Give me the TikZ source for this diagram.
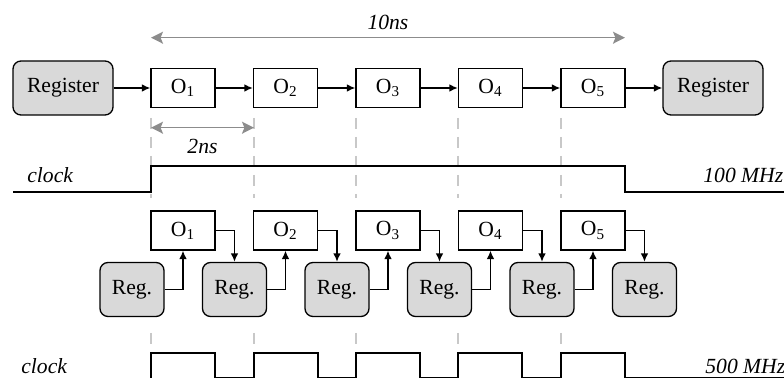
\documentclass[tikz,border=0pt]{standalone}
\usepackage{fontspec}
\setmainfont{Liberation Serif}
\usetikzlibrary{arrows.meta, positioning, calc}

\definecolor{regfill}{RGB}{217,217,217}
\definecolor{spangray}{RGB}{140,140,140}
\definecolor{guidegray}{RGB}{200,200,200}

\begin{document}
\begin{tikzpicture}[x=0.5pt,y=-0.5pt,
  every node/.style={font=\fontsize{10.8}{13}\selectfont},
  op/.style={draw,line width=0.65pt,minimum width=32pt,minimum height=19.5pt,inner sep=0pt},
  reg/.style={draw,fill=regfill,rounded corners=4pt,line width=0.65pt,minimum height=27pt,inner sep=0pt},
  lbl/.style={font=\fontsize{10.8}{13}\selectfont\itshape,inner sep=0pt},
  flow/.style={-{Latex[length=4.2pt,width=3.8pt]},line width=0.75pt},
  span/.style={{Stealth[length=6pt,width=6pt,inset=1.2pt]}-{Stealth[length=6pt,width=6pt,inset=1.2pt]},spangray,line width=0.8pt},
  guide/.style={guidegray,line width=0.7pt,dash pattern=on 5.5pt off 4pt},
  clk/.style={line width=0.85pt},
]
\useasboundingbox (0,0) rectangle (784,378);

% guides (behind everything)
\draw[guide] (151,118) -- (151,198);
\draw[guide] (254,118) -- (254,198);
\draw[guide] (356,118) -- (356,198);
\draw[guide] (458,118) -- (458,198);
\draw[guide] (561,118) -- (561,198);
\draw[guide] (151,333) -- (151,352);
\draw[guide] (254,333) -- (254,352);
\draw[guide] (356,333) -- (356,352);
\draw[guide] (458,333) -- (458,352);
\draw[guide] (561,333) -- (561,352);

% single register pipeline
\node[reg,minimum width=50pt] (nRegIn) at (63,88) {Register};
\node[op] (nO1) at (183,88) {O\textsubscript{1}};
\node[op] (nO2) at (285.5,88) {O\textsubscript{2}};
\node[op] (nO3) at (388,88) {O\textsubscript{3}};
\node[op] (nO4) at (490.5,88) {O\textsubscript{4}};
\node[op] (nO5) at (593,88) {O\textsubscript{5}};
\node[reg,minimum width=50pt] (nRegOut) at (713,88) {Register};

\draw[flow] (nRegIn) -- (nO1);
\draw[flow] (nO1) -- (nO2);
\draw[flow] (nO2) -- (nO3);
\draw[flow] (nO3) -- (nO4);
\draw[flow] (nO4) -- (nO5);
\draw[flow] (nO5) -- (nRegOut);

% time spans
\coordinate (tA) at (151,37.7);
\coordinate (tB) at (625,37.7);
\coordinate (tC) at (151,127.7);
\coordinate (tD) at (254,127.7);
\draw[span] (tA) -- (tB);
\draw[span] (tC) -- (tD);
\node[lbl] (nTen) at (388,22) {10ns};
\node[lbl] (nTwo) at (202.5,146) {2ns};

% slow clock
\node[lbl,anchor=west] (nClkA) at (27,175) {clock};
\node[lbl,anchor=west] (nFreqA) at (703,175) {100 MHz};
\draw[clk] (13,191.7) -- (151,191.7) -- (151,165.7) -- (625,165.7) -- (625,191.7) -- (790,191.7);

% pipelined version
\node[op] (nS1) at (183,230.5) {O\textsubscript{1}};
\node[op] (nS2) at (285.5,230.5) {O\textsubscript{2}};
\node[op] (nS3) at (388,230.5) {O\textsubscript{3}};
\node[op] (nS4) at (490.5,230.5) {O\textsubscript{4}};
\node[op] (nS5) at (593,230.5) {O\textsubscript{5}};

\node[reg,minimum width=32pt] (nR1) at (132,289.5) {Reg.};
\node[reg,minimum width=32pt] (nR2) at (234.5,289.5) {Reg.};
\node[reg,minimum width=32pt] (nR3) at (337,289.5) {Reg.};
\node[reg,minimum width=32pt] (nR4) at (439.5,289.5) {Reg.};
\node[reg,minimum width=32pt] (nR5) at (542,289.5) {Reg.};
\node[reg,minimum width=32pt] (nR6) at (644.5,289.5) {Reg.};

\draw[flow] (nR1.east) -| (nS1.south);
\draw[flow] (nS1.east) -| (nR2.north);
\draw[flow] (nR2.east) -| (nS2.south);
\draw[flow] (nS2.east) -| (nR3.north);
\draw[flow] (nR3.east) -| (nS3.south);
\draw[flow] (nS3.east) -| (nR4.north);
\draw[flow] (nR4.east) -| (nS4.south);
\draw[flow] (nS4.east) -| (nR5.north);
\draw[flow] (nR5.east) -| (nS5.south);
\draw[flow] (nS5.east) -| (nR6.north);

% fast clock
\node[lbl,anchor=west] (nClkB) at (21,366) {clock};
\node[lbl,anchor=west] (nFreqB) at (705,366) {500 MHz};
\draw[clk] (151,385) -- (151,353) -- (215,353) -- (215,377.8) -- (254,377.8)
  -- (254,353) -- (318,353) -- (318,377.8) -- (356,377.8)
  -- (356,353) -- (420,353) -- (420,377.8) -- (458,377.8)
  -- (458,353) -- (522,353) -- (522,377.8) -- (561,377.8)
  -- (561,353) -- (625,353) -- (625,377.8) -- (790,377.8);
\end{tikzpicture}
\end{document}
